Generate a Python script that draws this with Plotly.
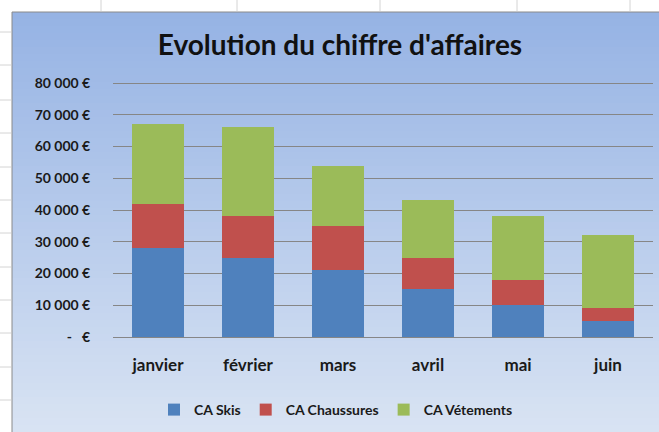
import plotly.graph_objects as go

# ---- data ----
mois = ["janvier", "février", "mars", "avril", "mai", "juin"]
ca_skis = [28000, 25000, 21000, 15000, 10000, 5000]
ca_chaussures = [14000, 13000, 14000, 10000, 8000, 4000]
ca_vetements = [25000, 28000, 19000, 18000, 20000, 23000]
series_names = ["CA Skis", "CA Chaussures", "CA Vétements"]
tick_vals = [0, 10000, 20000, 30000, 40000, 50000, 60000, 70000, 80000]
tick_text = ["-   €", "10 000 €", "20 000 €", "30 000 €", "40 000 €",
             "50 000 €", "60 000 €", "70 000 €", "80 000 €"]

colors = ["#4F81BD", "#C0504D", "#9BBB59"]
FONT = "Lato"

W, H = 659, 432
ML, MR, MT, MB = 113, 6, 81, 95
PW, PH = W - ML - MR, H - MT - MB
YMAX = 80000 * (1 + 2 / 254)  # small headroom so the 80 000 gridline is drawn


def px(x):
    return (x - ML) / PW


def py(y):
    return (H - MB - y) / PH


fig = go.Figure()
for name, vals, c in zip(series_names, [ca_skis, ca_chaussures, ca_vetements], colors):
    fig.add_trace(go.Bar(x=mois, y=vals, name=name, marker=dict(color=c, line=dict(width=0))))

shapes = []
# gradient background of chart area
top = (150, 179, 228)
bot = (216, 227, 243)
x0, x1, y0, y1 = 12, W, 12, H
n = 60
step = (y1 - y0) / n
for i in range(n):
    t = i / (n - 1)
    col = tuple(round(top[k] + (bot[k] - top[k]) * t) for k in range(3))
    ya = y0 + i * step
    yb = min(y1, ya + step + 1)
    shapes.append(dict(type="rect", xref="paper", yref="paper", layer="below",
                       x0=px(x0), x1=px(x1), y0=py(ya), y1=py(yb),
                       fillcolor="rgb(%d,%d,%d)" % col, line=dict(width=0)))
# chart border
shapes.append(dict(type="line", xref="paper", yref="paper", layer="below",
                   x0=px(12), x1=px(12), y0=py(12), y1=py(H), line=dict(color="#8a8a8a", width=1)))
shapes.append(dict(type="line", xref="paper", yref="paper", layer="below",
                   x0=px(12), x1=px(W), y0=py(12), y1=py(12), line=dict(color="#8a8a8a", width=1)))
# spreadsheet grid remnants
for yy in [32, 65, 100, 133, 167, 200, 233, 267, 300, 333, 367, 400]:
    shapes.append(dict(type="line", xref="paper", yref="paper", layer="below",
                       x0=px(0), x1=px(11), y0=py(yy), y1=py(yy), line=dict(color="#d4d4d4", width=1)))
for xx in [101, 237, 380, 517, 630]:
    shapes.append(dict(type="line", xref="paper", yref="paper", layer="below",
                       x0=px(xx), x1=px(xx), y0=py(0), y1=py(11), line=dict(color="#d4d4d4", width=1)))

fig.update_layout(
    width=W, height=H,
    margin=dict(l=ML, r=MR, t=MT, b=MB, pad=0),
    barmode="stack", bargap=0.43,
    paper_bgcolor="white", plot_bgcolor="rgba(0,0,0,0)",
    font=dict(family=FONT, color="#1a1a1a"),
    title=dict(text="<b>Evolution du chiffre d'affaires</b>", x=px(340), xanchor="center",
               xref="paper", y=1 - 45 / H, yanchor="middle",
               font=dict(family=FONT, size=28, color="#111111")),
    shapes=shapes,
    showlegend=True,
    legend=dict(orientation="h", x=px(336), xanchor="center", y=py(410), yanchor="middle",
                bgcolor="rgba(0,0,0,0)", font=dict(family=FONT, size=14, color="#1a1a1a", weight="bold"),
                traceorder="normal", itemwidth=30),
)
fig.update_xaxes(showgrid=False, showline=False, zeroline=False,
                 ticks="outside", ticklen=13, tickcolor="rgba(0,0,0,0)",
                 tickfont=dict(family=FONT, size=17, color="#1a1a1a", weight="bold"))
fig.update_yaxes(range=[0, YMAX], tickvals=tick_vals, ticktext=tick_text,
                 showgrid=True, gridcolor="#868686", gridwidth=1,
                 zeroline=True, zerolinecolor="#868686", zerolinewidth=1, showline=False,
                 ticks="outside", ticklen=19, tickcolor="rgba(0,0,0,0)",
                 tickfont=dict(family=FONT, size=14, color="#1a1a1a", weight="bold"))

fig.write_html("out.html", config={"displayModeBar": False},
               post_script="document.body.style.margin='0';document.body.style.overflow='hidden';")
